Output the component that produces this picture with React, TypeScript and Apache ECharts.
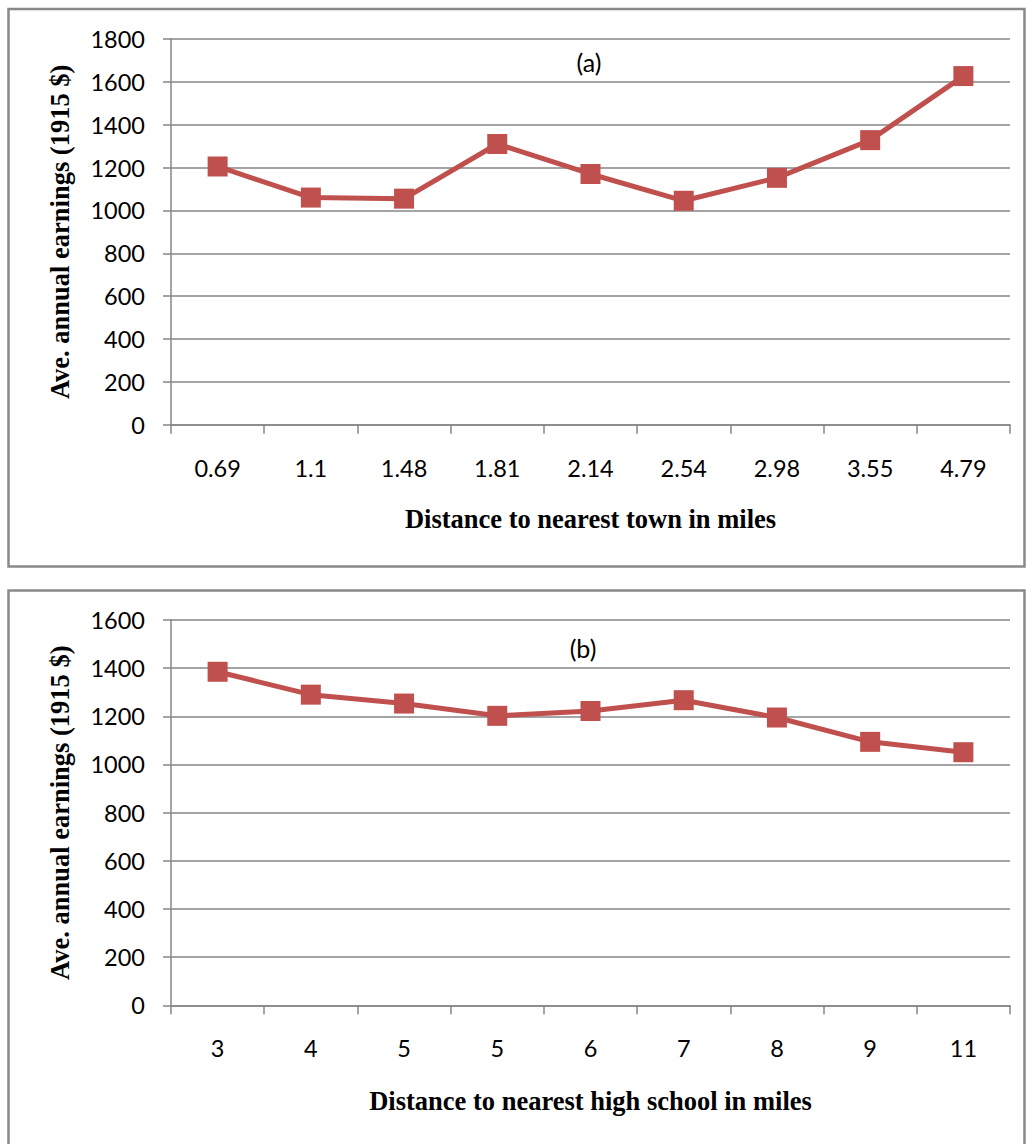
import React, { useEffect, useRef } from "react";
import * as echarts from "echarts";

const townCategories = ["0.69", "1.1", "1.48", "1.81", "2.14", "2.54", "2.98", "3.55", "4.79"];
const townEarnings = [1205, 1060, 1055, 1310, 1170, 1045, 1152, 1328, 1627];
const schoolCategories = ["3", "4", "5", "5", "6", "7", "8", "9", "11"];
const schoolEarnings = [1385, 1290, 1253, 1202, 1222, 1267, 1195, 1094, 1051];
const yTitle = "Ave. annual earnings (1915 $)";
const xTitleA = "Distance to nearest town in miles";
const xTitleB = "Distance to nearest high school in miles";

const RED = "#C0504D";
const GRAY = "#868686";
const SANS = "Lato, 'Open Sans', sans-serif";
const SERIF = "'Liberation Serif', 'DejaVu Serif', serif";
const TICK_SIZE = 23.5;
const TITLE_SIZE = 26.5;

function yAxis(gridIndex: number, max: number) {
  return {
    type: "value",
    gridIndex,
    min: 0,
    max,
    interval: 200,
    name: yTitle,
    nameLocation: "middle",
    nameGap: 97.5,
    nameRotate: 90,
    nameTextStyle: { fontFamily: SERIF, fontWeight: "bold", fontSize: TITLE_SIZE, color: "#000" },
    axisLine: { show: true, lineStyle: { color: GRAY, width: 1.5 } },
    axisTick: { show: true, length: 8, lineStyle: { color: GRAY, width: 1.5 } },
    axisLabel: {
      margin: 26,
      fontFamily: SANS,
      fontSize: TICK_SIZE,
      color: "#000",
      formatter: (v: number) => String(v),
    },
    splitLine: { show: true, lineStyle: { color: GRAY, width: 1.5 } },
  };
}

function xAxis(gridIndex: number, data: string[], name: string, gap: number) {
  return {
    type: "category",
    gridIndex,
    data,
    boundaryGap: true,
    name,
    nameLocation: "middle",
    nameGap: gap,
    nameTextStyle: { fontFamily: SERIF, fontWeight: "bold", fontSize: TITLE_SIZE, color: "#000" },
    axisLine: { show: true, lineStyle: { color: GRAY, width: 1.5 } },
    axisTick: { show: true, length: 9, alignWithLabel: false, lineStyle: { color: GRAY, width: 1.5 } },
    axisLabel: { margin: 31, fontFamily: SANS, fontSize: TICK_SIZE, color: "#000", interval: 0 },
    splitLine: { show: false },
  };
}

function series(xi: number, data: number[]) {
  return {
    type: "line",
    xAxisIndex: xi,
    yAxisIndex: xi,
    data,
    symbol: "rect",
    symbolSize: 20,
    lineStyle: { color: RED, width: 5 },
    itemStyle: { color: RED },
  };
}

export default function App() {
  const ref = useRef<HTMLDivElement>(null);
  useEffect(() => {
    if (!ref.current) return;
    const chart = echarts.init(ref.current, undefined, { renderer: "svg" });
    chart.setOption({
      animation: false,
      backgroundColor: "#fff",
      grid: [
        { left: 171, right: 16, top: 39, height: 385.7 },
        { left: 171, right: 16, top: 620, height: 385.3 },
      ],
      xAxis: [xAxis(0, townCategories, xTitleA, 81), xAxis(1, schoolCategories, xTitleB, 82.5)],
      yAxis: [yAxis(0, 1800), yAxis(1, 1600)],
      series: [series(0, townEarnings), series(1, schoolEarnings)],
      graphic: [
        {
          type: "rect",
          shape: { x: 8.5, y: 9, width: 1016, height: 557.5 },
          style: { fill: "none", stroke: "#898989", lineWidth: 2.5 },
          z: -1,
        },
        {
          type: "rect",
          shape: { x: 8.5, y: 590.5, width: 1016, height: 600 },
          style: { fill: "none", stroke: "#898989", lineWidth: 2.5 },
          z: -1,
        },
        {
          type: "text",
          x: 589,
          y: 62,
          style: { text: "(a)", fontFamily: SANS, fontSize: 25, fill: "#000", align: "center", verticalAlign: "middle" },
        },
        {
          type: "text",
          x: 583,
          y: 648,
          style: { text: "(b)", fontFamily: SANS, fontSize: 25, fill: "#000", align: "center", verticalAlign: "middle" },
        },
      ],
    });
    return () => chart.dispose();
  }, []);
  return (
    <div
      ref={ref}
      style={{ position: "fixed", left: 0, top: 0, width: 1026, height: 1144, background: "#fff" }}
    />
  );
}
